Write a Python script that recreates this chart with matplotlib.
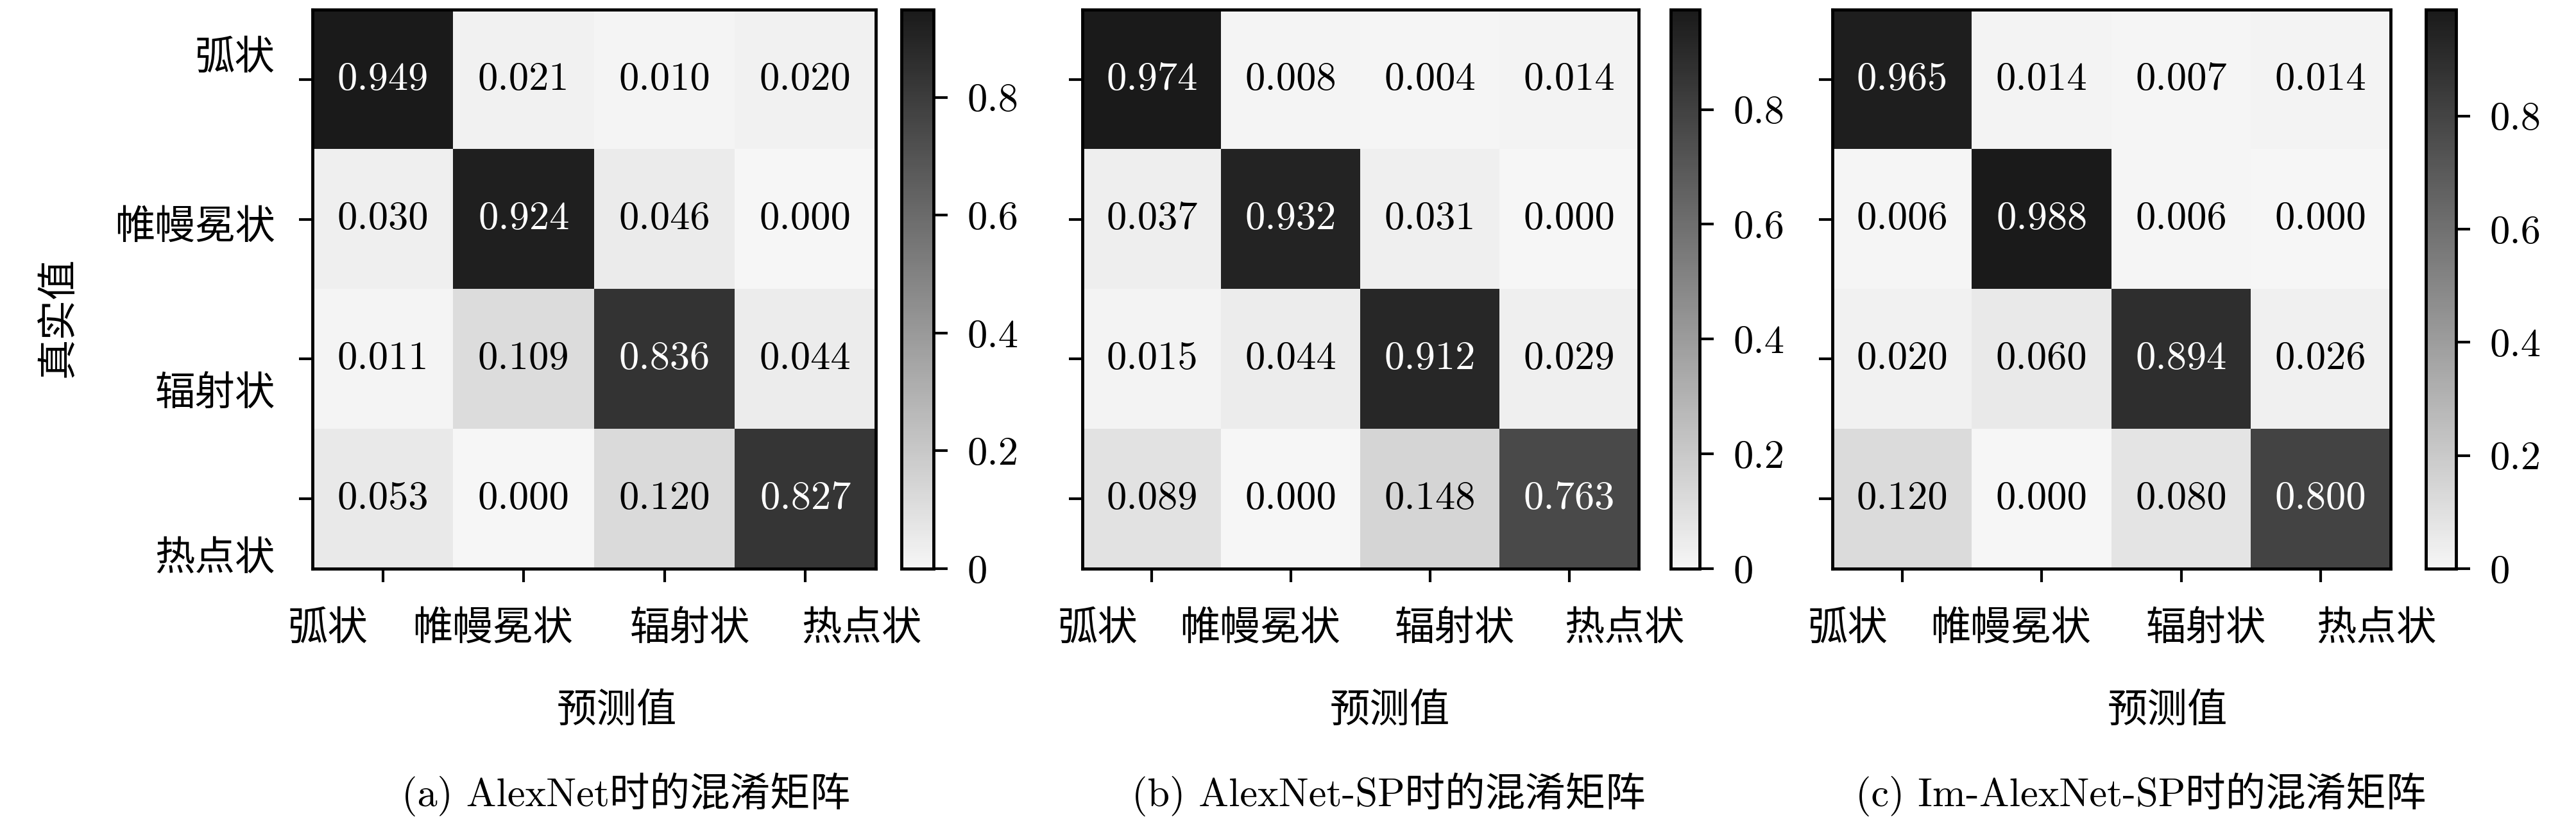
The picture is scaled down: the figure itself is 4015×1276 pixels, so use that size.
import numpy as np
import matplotlib
matplotlib.use("Agg")
import matplotlib.pyplot as plt
from matplotlib.colors import LinearSegmentedColormap
from matplotlib.transforms import blended_transform_factory

# ---- data ----
classes = ['弧状', '帷幔冕状', '辐射状', '热点状']

cm_alexnet = [[0.949, 0.021, 0.010, 0.020],
              [0.030, 0.924, 0.046, 0.000],
              [0.011, 0.109, 0.836, 0.044],
              [0.053, 0.000, 0.120, 0.827]]
cm_alexnet_sp = [[0.974, 0.008, 0.004, 0.014],
                 [0.037, 0.932, 0.031, 0.000],
                 [0.015, 0.044, 0.912, 0.029],
                 [0.089, 0.000, 0.148, 0.763]]
cm_im_alexnet_sp = [[0.965, 0.014, 0.007, 0.014],
                    [0.006, 0.988, 0.006, 0.000],
                    [0.020, 0.060, 0.894, 0.026],
                    [0.120, 0.000, 0.080, 0.800]]

captions = ['(a) AlexNet时的混淆矩阵',
            '(b) AlexNet-SP时的混淆矩阵',
            '(c) Im-AlexNet-SP时的混淆矩阵']
cbar_ticks = [0, 0.2, 0.4, 0.6, 0.8]
cbar_labels = ['0', '0.2', '0.4', '0.6', '0.8']

# ---- style ----
plt.rcParams['font.family'] = ['cmr10', 'Noto Sans CJK SC']
plt.rcParams['axes.formatter.use_mathtext'] = True
FS = 45
LW = 3.5

cmap = LinearSegmentedColormap.from_list('grey_lin', ['#f6f6f6', '#1a1a1a'])

W, H = 4016, 1276
fig = plt.figure(figsize=(W / 100, H / 100), dpi=100)

# pixel boxes of heatmaps / colorbars (left, right)
top_px, bot_px = 15, 886
heat_x = [(487, 1365), (1687, 2554), (2856, 3726)]
cbar_x = [(1405, 1455), (2604, 2649), (3781, 3828)]
xlabel_fx = [0.54, 0.553, 0.60]
caption_fx = [0.556, 0.55, 0.553]

# where the (shifted) tick labels sit, in data units
ytext_pos = [-0.15, 1.06, 2.25, 3.43]
xtext_pos = [-0.39, 0.78, 2.18, 3.40]

def box(x0, x1):
    return [x0 / W, 1 - bot_px / H, (x1 - x0) / W, (bot_px - top_px) / H]

for i, mat in enumerate([cm_alexnet, cm_alexnet_sp, cm_im_alexnet_sp]):
    data = np.array(mat)
    ax = fig.add_axes(box(*heat_x[i]))
    vmax = data.max()
    im = ax.imshow(data, cmap=cmap, vmin=0, vmax=vmax, aspect='auto')

    for r in range(data.shape[0]):
        for c in range(data.shape[1]):
            v = data[r, c]
            ax.text(c, r, f'{v:.3f}', ha='center', va='center', fontsize=FS,
                    color='white' if v > 0.5 * vmax else 'black')

    ax.set_xticks(range(len(classes)))
    ax.set_yticks(range(len(classes)))
    ax.set_xticklabels([])
    ax.set_yticklabels([])
    ax.tick_params(length=15, width=3)
    for s in ax.spines.values():
        s.set_linewidth(LW)

    # x tick labels (spread a bit wider than the ticks, as in the original)
    tx = blended_transform_factory(ax.transData, ax.transAxes)
    for p, name in zip(xtext_pos, classes):
        ax.text(p, -0.108, name, transform=tx, ha='center', va='center', fontsize=FS)

    if i == 0:
        ty = blended_transform_factory(ax.transAxes, ax.transData)
        for p, name in zip(ytext_pos, classes):
            ax.text(-0.066, p, name, transform=ty, ha='right', va='center', fontsize=FS)
        ax.text(-0.45, 0.45, '真实值', transform=ax.transAxes, rotation=90,
                ha='center', va='center', fontsize=FS)

    ax.text(xlabel_fx[i], -0.255, '预测值', transform=ax.transAxes,
            ha='center', va='center', fontsize=FS)
    ax.text(caption_fx[i], -0.404, captions[i], transform=ax.transAxes,
            ha='center', va='center', fontsize=FS)

    cax = fig.add_axes(box(*cbar_x[i]))
    cb = fig.colorbar(im, cax=cax)
    cb.set_ticks(cbar_ticks, labels=cbar_labels)
    cb.outline.set_linewidth(LW)
    cax.tick_params(length=16, width=3, pad=22, labelsize=FS)

fig.savefig('out.png', dpi=100)
plt.close(fig)
